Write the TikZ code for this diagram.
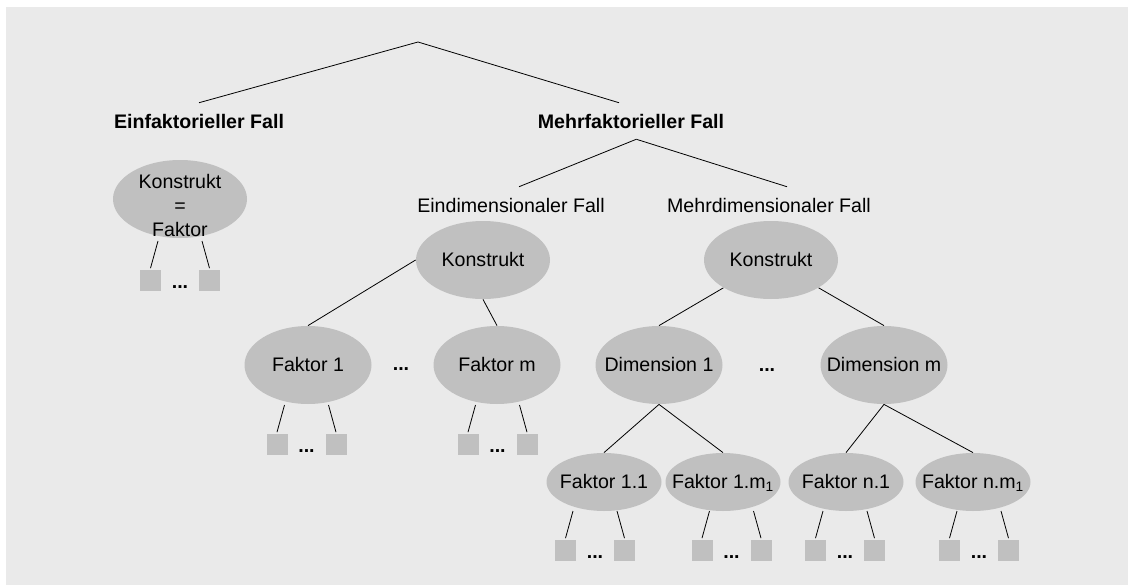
\documentclass[tikz,border=0pt]{standalone}
\usepackage{fontspec}
\setmainfont{Liberation Sans}
\usetikzlibrary{shapes.geometric}

\definecolor{bggray}{HTML}{EAEAEA}
\definecolor{blobgray}{HTML}{C0C0C0}
\newcommand{\diafont}{\fontsize{14.7}{18}\selectfont}

\tikzset{
  blob/.style={ellipse, fill=blobgray, inner sep=0pt, minimum width=100.5pt, minimum height=58.5pt},
  mid blob/.style={blob, minimum width=95.25pt},
  small blob/.style={blob, minimum width=86.25pt, minimum height=43.5pt},
  item/.style={fill=blobgray, inner sep=0pt, minimum size=15.75pt, outer sep=1pt},
  fall/.style={anchor=base, inner ysep=8pt},
  dots/.style={anchor=base, font=\diafont\bfseries},
  every label/.style={text height=10pt, text depth=0pt}
}

\newcommand{\indik}[3]{%
  \coordinate (#1a) at (#2-22,#3);
  \coordinate (#1b) at (#2+22,#3);
  \node[item] (#1l) at (#2-29.5,#3+39) {};
  \node[item] (#1r) at (#2+29.5,#3+39) {};
  \node[dots] (#1d) at (#2,#3+47) {...};
  \draw (#1a) -- (#1l.north);
  \draw (#1b) -- (#1r.north);
}

\begin{document}
\begin{tikzpicture}[x=0.75pt, y=-0.75pt, font=\diafont, line width=0.6pt]
\useasboundingbox (0,0) rectangle (1128,585);
\fill[bggray] (6,7) rectangle (1128,585);

\coordinate (top) at (418,42);
\node[fall, font=\diafont\bfseries] (ein) at (199,128) {Einfaktorieller Fall};
\node[fall, font=\diafont\bfseries] (mehr) at (631,128) {Mehrfaktorieller Fall};
\node[fall] (edim) at (511,212) {Eindimensionaler Fall};
\node[fall] (mdim) at (769,212) {Mehrdimensionaler Fall};

\node[blob] (kf) at (180,199) {};
\node[align=center] (kft) at (180,205) {Konstrukt\\=\\Faktor};

\node[blob, label=center:Konstrukt] (ek) at (483,260) {};
\node[blob, label=center:Konstrukt] (mk) at (771,260) {};
\node[mid blob, label=center:Faktor 1] (f1) at (308,365) {};
\node[mid blob, label=center:Faktor m] (fm) at (497,365) {};
\node[mid blob, label=center:Dimension 1] (d1) at (659,365) {};
\node[mid blob, label=center:Dimension m] (dm) at (884,365) {};
\node[dots] (fdots) at (401,370) {...};
\node[dots] (ddots) at (767,371) {...};

\node[small blob, label=center:Faktor 1.1] (f11) at (604,482) {};
\node[small blob, label={center:Faktor 1.m\textsubscript{1}}] (f1m) at (723,482) {};
\node[small blob, label=center:Faktor n.1] (fn1) at (846,482) {};
\node[small blob, label={center:Faktor n.m\textsubscript{1}}] (fnm) at (973,482) {};

\draw (top) -- (ein.north);
\draw (top) -- ([xshift=-9pt]mehr.north);
\draw ([xshift=4pt]mehr.south) -- ([xshift=6pt]edim.north);
\draw ([xshift=4pt]mehr.south) -- ([xshift=13.5pt]mdim.north);
\draw (ek.west) -- (f1.north);
\draw (ek.south) -- (fm.north);
\draw (mk.south west) -- (d1.north);
\draw (mk.south east) -- (dm.north);
\draw (d1.south) -- (f11.north);
\draw (d1.south) -- (f1m.north);
\draw (dm.south) -- (fn1.north);
\draw (dm.south) -- (fnm.north);

\indik{kf}{180}{241}
\indik{f1}{306.5}{405}
\indik{fm}{497.5}{405}
\indik{f11}{595}{511}
\indik{f1m}{731.5}{511}
\indik{fn1}{845}{511}
\indik{fnm}{979}{511}
\end{tikzpicture}
\end{document}
